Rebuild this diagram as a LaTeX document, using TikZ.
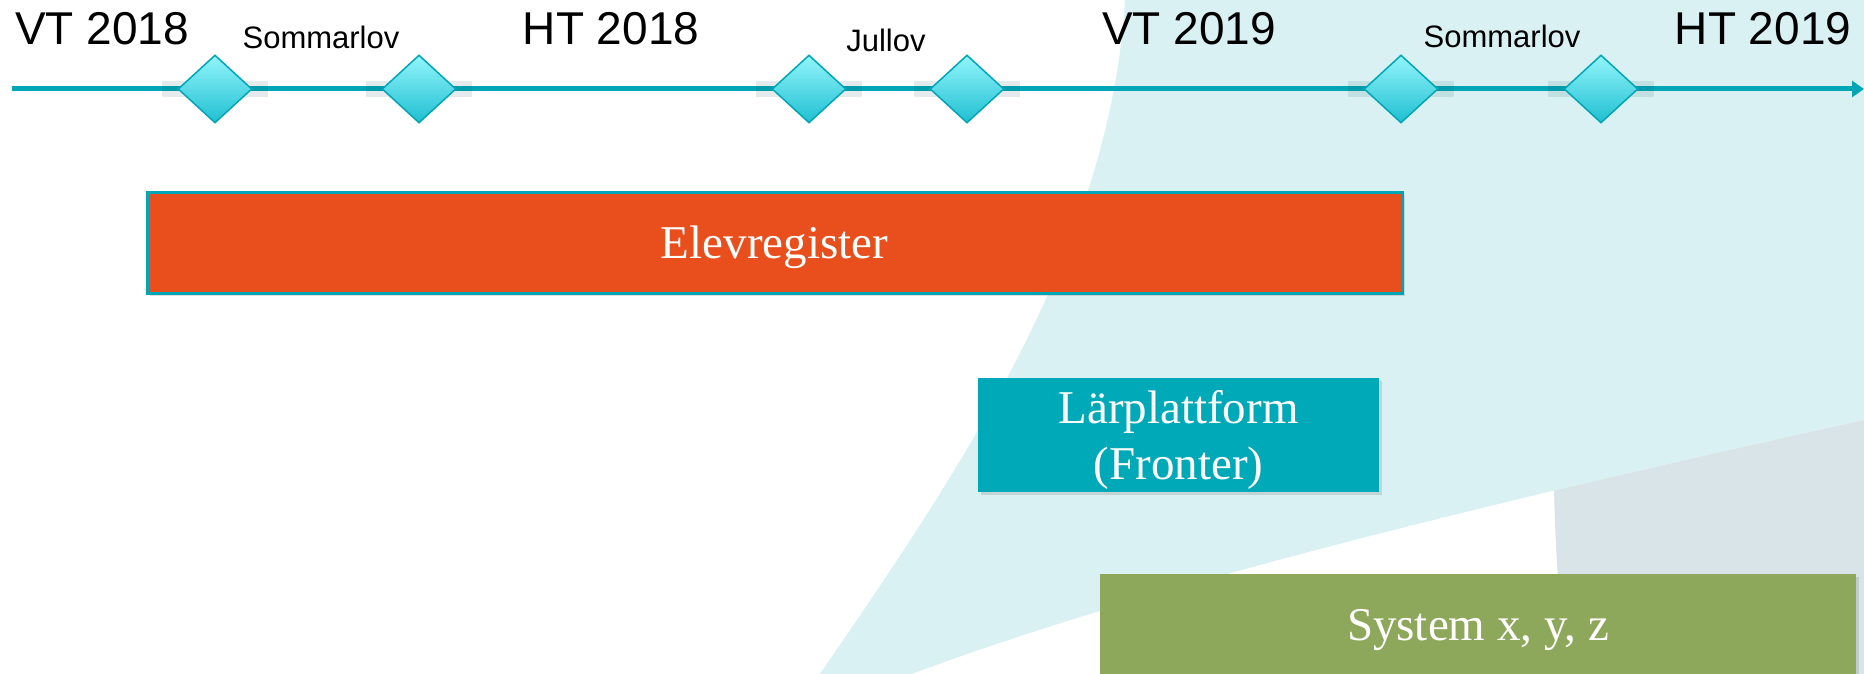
\documentclass[tikz,border=0pt]{standalone}
\usepackage{fontspec}
\setmainfont{Liberation Serif}
\newfontfamily\arialfont{Liberation Sans}
\usepackage{tikz}
\usetikzlibrary{shapes.geometric, arrows.meta, shadows}

\definecolor{lineteal}{HTML}{00A6B6}
\definecolor{boxorange}{HTML}{E84F1C}
\definecolor{boxteal}{HTML}{00A9B8}
\definecolor{boxgreen}{HTML}{8DA85B}
\definecolor{bgcyan}{HTML}{D9F1F3}
\definecolor{bggray}{HTML}{D8E4E7}
\definecolor{gemtop}{HTML}{93F5FB}
\definecolor{gembottom}{HTML}{1FBFD1}

\tikzstyle{season} = [font=\arialfont\fontsize{46}{55}\selectfont, anchor=base, inner sep=0pt]
\tikzstyle{holiday} = [font=\arialfont\fontsize{31}{37}\selectfont, anchor=base, inner sep=0pt]
\tikzstyle{milestone} = [diamond, minimum width=74pt, minimum height=68pt, inner sep=0pt, draw=lineteal, line width=1.5pt, top color=gemtop, bottom color=gembottom]
\tikzstyle{band} = [fill=lineteal!40!black, opacity=0.1]
\tikzstyle{bar} = [rectangle, inner sep=0pt, text=white, align=center, text depth=-4pt, font=\fontsize{47}{56}\selectfont, drop shadow={shadow xshift=3pt, shadow yshift=-3pt, opacity=0.25}]
\tikzstyle{arrow} = [line width=5pt, draw=lineteal, -{Triangle[length=12pt, width=16pt]}]

\begin{document}
\begin{tikzpicture}[x=1pt, y=-1pt]

\useasboundingbox (0,0) rectangle (1864,674);

% background
\fill[white] (0,0) rectangle (1864,674);
\fill[bgcyan] (1125,0) -- (1864,0) -- (1864,674) -- (820,674) .. controls (960,470) and (1110,250) .. (1125,0) -- cycle;
\fill[white] (912,674) .. controls (1150,585) and (1500,500) .. (1864,420) -- (1864,674) -- cycle;
\begin{scope}
\clip (912,674) .. controls (1150,585) and (1500,500) .. (1864,420) -- (1864,674) -- cycle;
\fill[bggray] (1554,400) .. controls (1552,500) and (1557,600) .. (1568,674) -- (1864,674) -- (1864,400) -- cycle;
\end{scope}

% timeline
\coordinate (tstart) at (12,89);
\coordinate (tend) at (1864,89);
\draw [arrow] (tstart) -- (tend);

\foreach \x/\n in {215/d1, 419/d2, 809/d3, 967/d4, 1401/d5, 1601/d6} {
  \fill[band] (\x-53,81) rectangle (\x+53,97);
  \node (\n) [milestone] at (\x,89) {};
}

\node (vt18) [season] at (102,45) {VT 2018};
\node (sl18) [holiday] at (321,49) {Sommarlov};
\node (ht18) [season] at (611,45) {HT 2018};
\node (jul18) [holiday] at (886,52) {Jullov};
\node (vt19) [season] at (1189,45) {VT 2019};
\node (sl19) [holiday] at (1502,48) {Sommarlov};
\node (ht19) [season] at (1763,45) {HT 2019};

% systems
\node (elev) [bar, fill=boxorange, draw=lineteal, line width=3pt, minimum width=1255pt, minimum height=101pt] at (774.5,242.5) {Elevregister};
\node (lar) [bar, fill=boxteal, minimum width=401pt, minimum height=114pt] at (1178.5,435) {Lärplattform\\(Fronter)};
\node (sys) [bar, fill=boxgreen, minimum width=756pt, minimum height=102pt] at (1478,625) {System x, y, z};

\end{tikzpicture}
\end{document}
